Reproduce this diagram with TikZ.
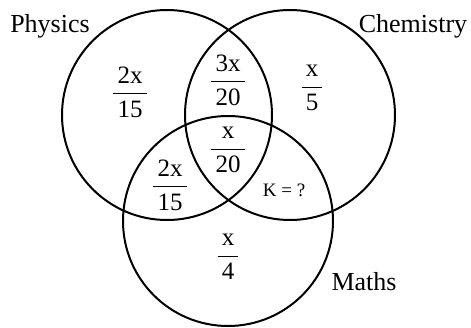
\documentclass[tikz,border=0pt]{standalone}
\usepackage{amsmath}
\usepackage{fontspec}
\setmainfont{Liberation Serif}
\usetikzlibrary{positioning}
\tikzset{
  venn/.style={draw, circle, line width=2pt, minimum size=210pt, inner sep=0pt},
  setname/.style={font=\fontsize{26}{30}\selectfont, inner sep=0pt},
  part/.style={font=\fontsize{25}{29}\selectfont, inner sep=0pt},
}
\newcommand{\vfrac}[2]{$\dfrac{\text{\,#1\,}}{\text{\,#2\,}}$}

\begin{document}
\begin{tikzpicture}[x=1pt, y=-1pt]
  \useasboundingbox (0,0) rectangle (471,327);
  % the three sets
  \node[venn] (phys) at (167,115) {};
  \node[venn] (chem) at (290,115) {};
  \node[venn] (math) at (228,221) {};
  % set names
  \node[setname] (physname) at (50,26) {Physics};
  \node[setname] (chemname) at (413,26) {Chemistry};
  \node[setname] (mathname) at (364,282) {Maths};
  % regions
  \node[part] (ponly) at (130,92) {\vfrac{2x}{15}};
  \node[part] (pc) at (228,80) {\vfrac{3x}{20}};
  \node[part] (conly) at (312,88) {\vfrac{x}{5}};
  \node[part] (pcm) at (228,150) {\vfrac{x}{20}};
  \node[part] (pm) at (170,185) {\vfrac{2x}{15}};
  \node[part, font=\fontsize{19}{22}\selectfont] (cm) at (284,190) {K = ?};
  \node[part] (monly) at (228,257) {\vfrac{x}{4}};
\end{tikzpicture}
\end{document}
